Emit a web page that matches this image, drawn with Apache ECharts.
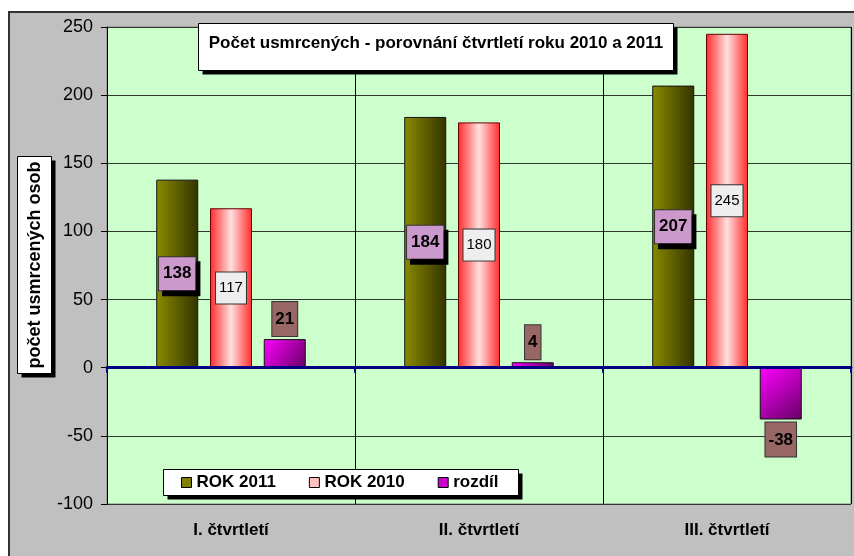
<!DOCTYPE html>
<html>
<head>
<meta charset="utf-8">
<script src="https://cdn.jsdelivr.net/npm/echarts@6/dist/echarts.min.js"></script>
<style>
    html, body { margin: 0; padding: 0; background: #fff; }
    #chart { width: 854px; height: 556px; }
</style>
</head>
<body>
<div id="chart"></div>
<script>
// data
var quarters = ['I. čtvrtletí', 'II. čtvrtletí', 'III. čtvrtletí'];
var rok2011 = [138, 184, 207];
var rok2010 = [117, 180, 245];
var rozdil = [21, 4, -38];
var yTicks = { min: -100, max: 250, step: 50 };

(function() {
    var font = 'Arial, "Liberation Sans", sans-serif';

    // 带阴影的白框
    function shadowBox(x, y, w, h, off) {
        return [{
            type: 'rect', z: 5,
            shape: { x: x + off, y: y + off, width: w, height: h },
            style: { fill: '#000' }
        }, {
            type: 'rect', z: 6,
            shape: { x: x, y: y, width: w, height: h },
            style: { fill: '#fff', stroke: '#000', lineWidth: 1 }
        }];
    }

    var graphics = [{
        type: 'rect',
        z: -10,
        shape: { x: 9, y: 12, width: 860, height: 560 },
        style: { fill: '#c0c0c0', stroke: '#333', lineWidth: 2 }
    }];
    graphics = graphics.concat(shadowBox(198.5, 23.5, 475, 47, 4));
    graphics = graphics.concat(shadowBox(163.5, 469.5, 355, 26, 4));
    graphics = graphics.concat(shadowBox(17.5, 156.5, 34, 217, 4));
    graphics.push({
        type: 'text', z: 7,
        x: 35, y: 265,
        rotation: Math.PI / 2,
        style: {
            text: 'počet usmrcených osob',
            font: 'bold 18px ' + font,
            fill: '#000',
            align: 'center',
            verticalAlign: 'middle'
        }
    });

    var option = {
        animation: false,
        textStyle: { fontFamily: font },
        graphic: graphics,
        title: {
            text: 'Počet usmrcených - porovnání čtvrtletí roku 2010 a 2011',
            left: 436,
            textAlign: 'center',
            top: 35,
            padding: 0,
            z: 10,
            textStyle: { fontSize: 17, fontWeight: 'bold', color: '#000', fontFamily: font }
        },
        legend: {
            left: 181,
            top: 474,
            padding: 0,
            itemGap: 33,
            itemWidth: 10,
            itemHeight: 10,
            z: 10,
            textStyle: { fontSize: 17, fontWeight: 'bold', color: '#000', fontFamily: font },
            data: [
                { name: 'ROK 2011', icon: 'rect', itemStyle: { color: '#808000', borderColor: '#000', borderWidth: 1 } },
                { name: 'ROK 2010', icon: 'rect', itemStyle: { color: '#ffc0c0', borderColor: '#000', borderWidth: 1 } },
                { name: 'rozdíl', icon: 'rect', itemStyle: { color: '#cc00cc', borderColor: '#000', borderWidth: 1 } }
            ]
        },
        grid: {
            left: 107,
            right: 3,
            top: 27,
            bottom: 52,
            show: true,
            backgroundColor: '#ccffcc',
            borderColor: '#808080',
            borderWidth: 1
        },
        xAxis: [{
            // 零线 + 刻度
            type: 'category',
            data: quarters,
            position: 'bottom',
            axisLine: { onZero: true, onZeroAxisIndex: 0, lineStyle: { color: '#000080', width: 3 } },
            axisTick: { show: true, length: 5, lineStyle: { color: '#000080', width: 2 } },
            axisLabel: { show: false },
            splitLine: { show: true, interval: 0, lineStyle: { color: '#000', width: 1 } },
            z: 5
        }, {
            // 底部文字
            type: 'category',
            data: quarters,
            position: 'bottom',
            axisLine: { show: false, onZero: false },
            axisTick: { show: false },
            axisLabel: { margin: 18, fontSize: 17, fontWeight: 'bold', color: '#000', fontFamily: font }
        }],
        yAxis: {
            type: 'value',
            min: yTicks.min,
            max: yTicks.max,
            interval: yTicks.step,
            axisLine: { show: true, lineStyle: { color: '#000' } },
            axisTick: { show: true, length: 6, lineStyle: { color: '#000' } },
            axisLabel: { fontSize: 18, color: '#000', margin: 14, fontFamily: font },
            splitLine: { lineStyle: { color: '#333', width: 1 } }
        },
        series: [{
            name: 'ROK 2011',
            type: 'bar',
            barWidth: 42,
            barGap: '28%',
            data: rok2011,
            itemStyle: {
                borderColor: '#111',
                borderWidth: 1,
                color: new echarts.graphic.LinearGradient(0, 0, 1, 0, [
                    { offset: 0, color: '#8a8a00' },
                    { offset: 1, color: '#333300' }
                ])
            },
            label: {
                show: true,
                position: 'inside',
                fontSize: 17,
                fontWeight: 'bold',
                color: '#000',
                fontFamily: font,
                backgroundColor: '#cc99cc',
                borderColor: '#333',
                borderWidth: 1,
                padding: [8, 4, 8, 4],
                shadowColor: '#000',
                shadowOffsetX: 4,
                shadowOffsetY: 5,
                shadowBlur: 0
            }
        }, {
            name: 'ROK 2010',
            type: 'bar',
            barWidth: 42,
            data: rok2010,
            itemStyle: {
                borderColor: '#660000',
                borderWidth: 1,
                color: new echarts.graphic.LinearGradient(0, 0, 1, 0, [
                    { offset: 0, color: '#ff2a2a' },
                    { offset: 0.5, color: '#ffe0e0' },
                    { offset: 1, color: '#ff2a2a' }
                ])
            },
            label: {
                show: true,
                position: 'inside',
                fontSize: 15,
                color: '#000',
                fontFamily: font,
                backgroundColor: '#eeeeee',
                borderColor: '#333',
                borderWidth: 1,
                padding: [8, 3, 8, 3]
            }
        }, {
            name: 'rozdíl',
            type: 'bar',
            barWidth: 42,
            data: rozdil.map(function(v) {
                return { value: v, label: { position: v < 0 ? 'bottom' : 'top' } };
            }),
            itemStyle: {
                borderColor: '#111',
                borderWidth: 1,
                color: new echarts.graphic.LinearGradient(0, 0, 1, 1, [
                    { offset: 0, color: '#ff00ff' },
                    { offset: 1, color: '#660066' }
                ])
            },
            label: {
                show: true,
                distance: 3,
                fontSize: 17,
                fontWeight: 'bold',
                color: '#000',
                fontFamily: font,
                backgroundColor: '#996666',
                borderColor: '#333',
                borderWidth: 1,
                padding: [9, 3, 8, 3]
            }
        }]
    };
    var myChart = echarts.init(document.getElementById('chart'));
    myChart.setOption(option);
})();
</script>
</body>
</html>
